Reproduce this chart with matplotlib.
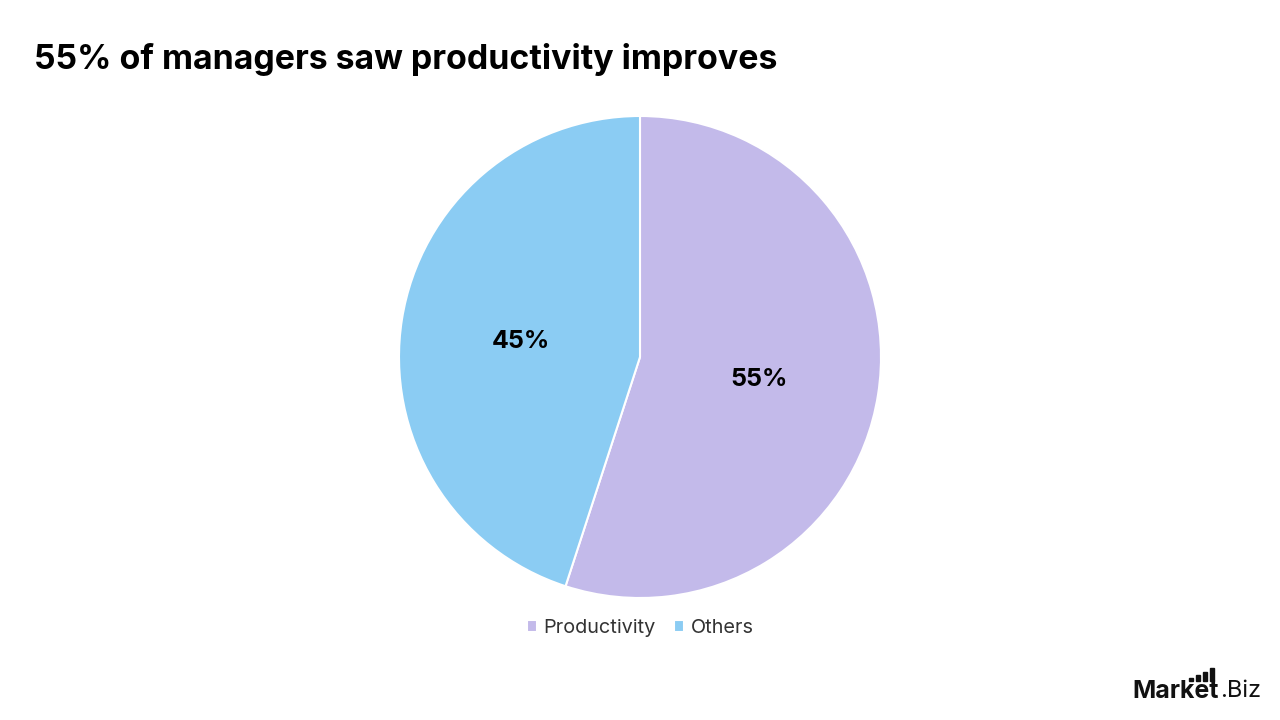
import matplotlib.pyplot as plt
from matplotlib.patches import Rectangle

# data
labels = ['Productivity', 'Others']
values = [55, 45]
colors = ['#c3baea', '#8bccf3']

plt.rcParams['font.family'] = ['Inter', 'DejaVu Sans']

fig = plt.figure(figsize=(12.8, 7.2), dpi=100)
fig.patch.set_facecolor('white')

# pie axes, centered at (640, 357) px with radius ~241 px
r = 241
ax = fig.add_axes([(640 - r) / 1280, (720 - 357 - r) / 720, 2 * r / 1280, 2 * r / 720])
wedges, texts, autotexts = ax.pie(
    values, colors=colors, startangle=90, counterclock=False,
    autopct='%d%%', pctdistance=0.5, radius=1,
    wedgeprops=dict(edgecolor='white', linewidth=1.5),
    textprops=dict(fontsize=18, fontweight='bold', color='black'))
for t in autotexts:
    x, y = t.get_position()
    t.set_position((x, y - 0.015))
ax.set_xlim(-1, 1)
ax.set_ylim(-1, 1)
ax.set_aspect('equal')

fig.text(34 / 1280, 1 - 59 / 720, '55% of managers saw productivity improves',
         fontsize=24.4, fontweight='bold', va='center', ha='left')

fig.legend(wedges, labels, loc='center', bbox_to_anchor=(0.5, 1 - 628 / 720),
           ncol=2, frameon=False, fontsize=14.3, handlelength=0.55, handleheight=0.55,
           handletextpad=0.3, columnspacing=0.9, labelcolor='#333333')

# logo
fig.text(1219 / 1280, 1 - 691 / 720, 'Market', fontsize=18, fontweight='bold',
         ha='right', va='center', color='#111111')
fig.text(1220 / 1280, 1 - 691 / 720, '.Biz', fontsize=17,
         ha='left', va='center', color='#111111')
for bx, top in [(1189, 678), (1196, 675), (1203, 672), (1210, 668)]:
    fig.add_artist(Rectangle((bx / 1280, 1 - 681 / 720), 3.5 / 1280, (681 - top) / 720,
                             transform=fig.transFigure, color='#111111'))

fig.savefig('out.png', dpi=100, facecolor='white')
